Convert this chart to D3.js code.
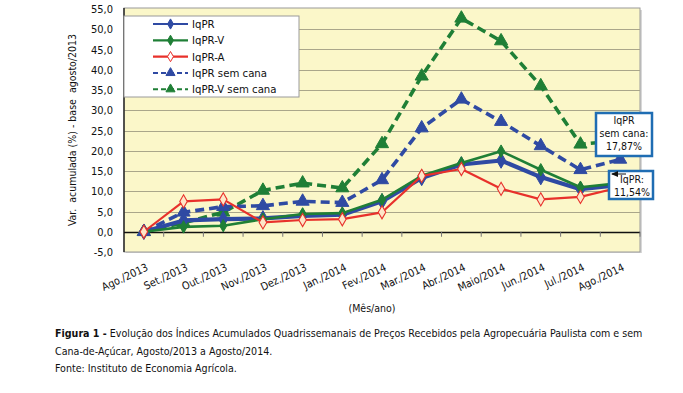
<!DOCTYPE html>
<html><head><meta charset="utf-8">
<script src="https://cdn.jsdelivr.net/npm/d3@7"></script>
<style>
body{margin:0;background:#fff;}
svg{display:block;font-family:"DejaVu Sans Condensed","DejaVu Sans",sans-serif;}
</style></head>
<body>
<svg id="c" width="683" height="393"></svg>
<script>
const categories = ["Ago./2013","Set./2013","Out./2013","Nov./2013","Dez./2013","Jan./2014","Fev./2014","Mar./2014","Abr./2014","Maio/2014","Jun./2014","Jul./2014","Ago./2014"];
const iqpr      = [0, 2.8, 3.1, 3.3, 3.9, 4.2, 7.5, 13.3, 16.6, 17.6, 13.5, 10.5, 11.54];
const iqprV     = [0, 1.2, 1.5, 3.1, 4.4, 4.6, 7.9, 13.8, 17.0, 19.9, 15.3, 11.0, 12.0];
const iqprA     = [0, 7.5, 8.0, 2.3, 2.9, 3.1, 4.8, 13.8, 15.5, 10.6, 8.0, 8.6, 11.0];
const iqprSem   = [0, 4.8, 6.2, 6.4, 7.5, 7.2, 12.8, 25.6, 32.7, 27.2, 21.2, 15.3, 17.87];
const iqprVSem  = [0, 2.2, 4.8, 10.2, 12.0, 10.8, 21.7, 38.4, 52.7, 47.1, 36.0, 21.6, 22.5];
const yTicks    = [-5, 0, 5, 10, 15, 20, 25, 30, 35, 40, 45, 50, 55];

const svg = d3.select("#c");
const L = 124, R = 640, T = 9, B = 252;
const x = d3.scaleBand().domain(categories).range([L, R]);
const cx = d => x(d) + x.bandwidth()/2;
const y = d3.scaleLinear().domain([-5, 55]).range([B, T]);
const fmt = v => d3.format(".1f")(v).replace(".", ",").replace("−","-");

const blue = "#2f4aa3", green = "#1f7f36", red = "#e8312b";

// plot background
svg.append("rect").attr("x", L+2).attr("y", T+1).attr("width", R-L).attr("height", B-T).attr("fill", "#d8d8d8");
svg.append("rect").attr("x", L).attr("y", T-1).attr("width", R-L).attr("height", B-T+1).attr("fill", "#fbf7c9").attr("stroke", "#9a9a9a").attr("stroke-width", 1);

// grid
svg.append("g").selectAll("line").data(yTicks.filter(t => t !== -5 && t !== 55)).join("line")
  .attr("x1", L).attr("x2", R).attr("y1", d => Math.round(y(d))+0.5).attr("y2", d => Math.round(y(d))+0.5)
  .attr("stroke", d => d === 0 ? "#111" : "#aaa68a").attr("stroke-width", d => d === 0 ? 1.3 : 1);
svg.append("line").attr("x1", L).attr("x2", L).attr("y1", T-1).attr("y2", B).attr("stroke", "#111").attr("stroke-width", 1.3);

// x ticks on zero line
const bounds = categories.slice(1).map(c => x(c)).concat([R]);
svg.append("g").selectAll("line").data(bounds).join("line")
  .attr("x1", d => d).attr("x2", d => d).attr("y1", y(0)).attr("y2", y(0)+5)
  .attr("stroke", "#777").attr("stroke-width", 1);

// y axis labels
const yAxis = d3.axisLeft(y).tickValues(yTicks).tickFormat(fmt).tickSize(0).tickPadding(11);
const ya = svg.append("g").attr("transform", `translate(${L},0)`).call(yAxis);
ya.select(".domain").remove();
ya.selectAll("text").attr("font-size", 11).attr("fill", "#111").attr("font-family", "DejaVu Sans Condensed, DejaVu Sans, sans-serif");

// y title
svg.append("text").attr("transform", "translate(76,130) rotate(-90)").attr("text-anchor", "middle")
  .attr("font-size", 10.5).attr("fill", "#111").attr("xml:space", "preserve")
  .text("Var.  acumulada (%) - base  agosto/2013");

// x labels
svg.append("g").selectAll("text").data(categories).join("text")
  .attr("transform", d => `translate(${cx(d)+5},${y(-5)+18}) rotate(-25)`)
  .attr("text-anchor", "end").attr("font-size", 10.8).attr("fill", "#111").text(d => d);

svg.append("text").attr("x", 372).attr("y", 312).attr("text-anchor", "middle").attr("font-size", 10.5).attr("fill", "#111").text("(Mês/ano)");

// series
const line = d3.line().x((d, i) => cx(categories[i])).y(d => y(d));
const diamond = d3.symbol().type(d3.symbolDiamond);
const tri = d3.symbol().type(d3.symbolTriangle);

function drawSeries(vals, color, width, dash, marker) {
  const g = svg.append("g");
  g.append("path").datum(vals).attr("d", line).attr("fill", "none").attr("stroke", color)
    .attr("stroke-width", width).attr("stroke-dasharray", dash || null).attr("stroke-linejoin", "round");
  g.selectAll("path.m").data(vals).join("path").attr("class", "m")
    .attr("transform", (d, i) => `translate(${cx(categories[i])},${y(d)})`)
    .attr("d", marker.sym.size(marker.size)())
    .attr("fill", marker.fill).attr("stroke", color).attr("stroke-width", marker.sw);
}
drawSeries(iqprVSem, green, 3.6, "9,5", {sym: tri, size: 75, fill: green, sw: 1});
drawSeries(iqprSem, blue, 3.6, "9,5", {sym: tri, size: 75, fill: blue, sw: 1});
drawSeries(iqpr, blue, 4.2, null, {sym: diamond, size: 70, fill: blue, sw: 1});
drawSeries(iqprV, green, 2.6, null, {sym: diamond, size: 45, fill: green, sw: 1});
drawSeries(iqprA, red, 2.2, null, {sym: diamond, size: 50, fill: "#fde6c8", sw: 1.1});

// legend
const leg = svg.append("g");
leg.append("rect").attr("x", L).attr("y", 16).attr("width", 175).attr("height", 81).attr("fill", "#fff").attr("stroke", "#9a9a9a");
const legItems = [
  {name: "IqPR", color: blue, w: 2.2, dash: null, sym: diamond, fill: blue, size: 30},
  {name: "IqPR-V", color: green, w: 2.2, dash: null, sym: diamond, fill: green, size: 30},
  {name: "IqPR-A", color: red, w: 2.2, dash: null, sym: diamond, fill: "#fff", size: 30},
  {name: "IqPR sem cana", color: blue, w: 2, dash: "5,3", sym: tri, fill: blue, size: 36},
  {name: "IqPR-V sem cana", color: green, w: 2, dash: "5,3", sym: tri, fill: green, size: 36}
];
legItems.forEach((it, i) => {
  const yy = 24 + i*16.3;
  leg.append("line").attr("x1", 153).attr("x2", 188).attr("y1", yy).attr("y2", yy)
    .attr("stroke", it.color).attr("stroke-width", it.w).attr("stroke-dasharray", it.dash);
  leg.append("path").attr("transform", `translate(170.5,${yy})`).attr("d", it.sym.size(it.size)())
    .attr("fill", it.fill).attr("stroke", it.color).attr("stroke-width", 1);
  leg.append("text").attr("x", 192).attr("y", yy+4).attr("font-size", 11.3).attr("fill", "#111").text(it.name);
});

// callouts
const boxBlue = "#1f6db3";
svg.append("rect").attr("x", 596).attr("y", 113).attr("width", 56).attr("height", 43).attr("fill", "#fff").attr("stroke", boxBlue).attr("stroke-width", 2.5);
[["IqPR", 124], ["sem cana:", 137], ["17,87%", 150]].forEach(([t, yy]) =>
  svg.append("text").attr("x", 624).attr("y", yy).attr("text-anchor", "middle").attr("font-size", 10.5).attr("fill", "#111").text(t));

svg.append("rect").attr("x", 609).attr("y", 171).attr("width", 44).attr("height", 28).attr("fill", "#fff").attr("stroke", boxBlue).attr("stroke-width", 2.5);
[["IqPR:", 183], ["11,54%", 196]].forEach(([t, yy]) =>
  svg.append("text").attr("x", 632).attr("y", yy).attr("text-anchor", "middle").attr("font-size", 10.5).attr("fill", "#111").text(t));
svg.append("line").attr("x1", 612).attr("x2", 626).attr("y1", 174).attr("y2", 174).attr("stroke", "#111").attr("stroke-width", 1);
svg.append("path").attr("d", "M611,174 L618,171 L618,177 Z").attr("fill", "#111");

// caption
const cap = svg.append("g").attr("font-size", 10.6).attr("fill", "#111");
const t1 = cap.append("text").attr("x", 55).attr("y", 337);
t1.append("tspan").attr("font-weight", "bold").text("Figura 1 -");
t1.append("tspan").text(" Evolução dos Índices Acumulados Quadrissemanais de Preços Recebidos pela Agropecuária Paulista com e sem");
cap.append("text").attr("x", 55).attr("y", 355).text("Cana-de-Açúcar, Agosto/2013 a Agosto/2014.");
cap.append("text").attr("x", 55).attr("y", 372).text("Fonte: Instituto de Economia Agrícola.");
</script>
</body></html>
